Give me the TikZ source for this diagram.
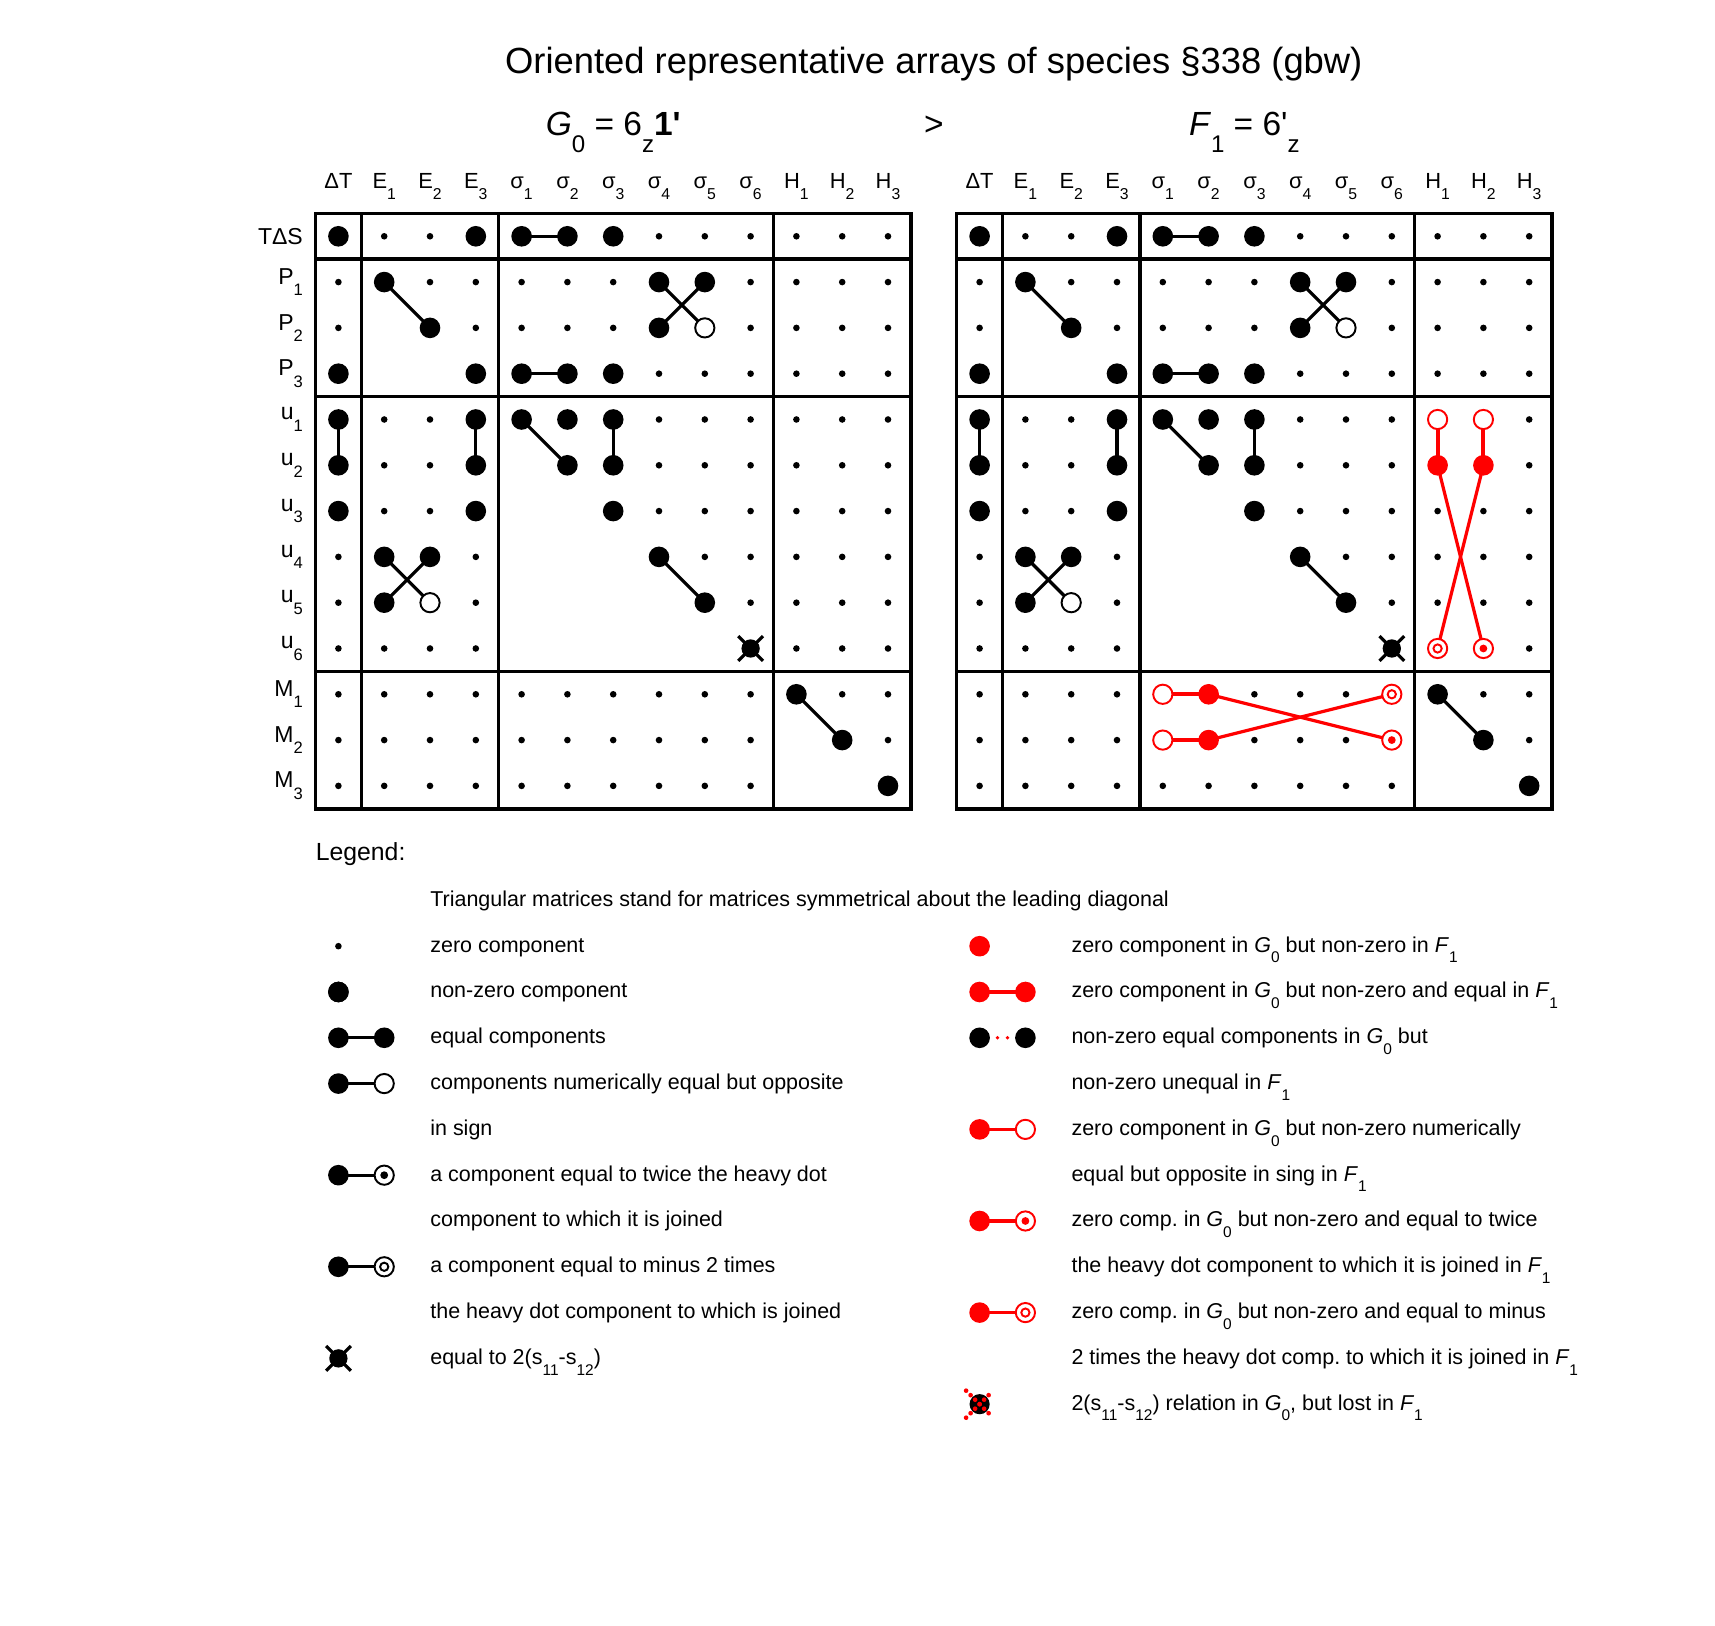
\documentclass[tikz,border=0pt]{standalone}
\usepackage{fontspec}
\setmainfont{Liberation Sans}
\usetikzlibrary{positioning}
\usetikzlibrary{calc}
\frenchspacing

\newcommand{\lo}[1]{\raisebox{-0.5em}{\scalebox{0.72}{#1}}}
\newcommand{\Gnull}{\textit{G}\lo{0}}
\newcommand{\Fone}{\textit{F}\lo{1}}

\tikzset{
  frame/.style={line width=2.2pt},
  link/.style={line width=2pt},
  redlink/.style={red, line width=2pt},
  ring/.style={fill=white, line width=1.2pt},
  txt/.style={inner sep=0pt, anchor=base west, font=\fontsize{13.35}{16}\selectfont},
  head/.style={inner sep=0pt, anchor=base, font=\fontsize{20.8}{25}\selectfont},
  collab/.style={inner sep=0pt, anchor=base, font=\fontsize{13.6}{16}\selectfont},
  rowlab/.style={inner sep=0pt, anchor=east, font=\fontsize{14.3}{17}\selectfont},
}

\begin{document}
\begin{tikzpicture}[x=1cm,y=-1cm]
\useasboundingbox (-7.389,-5.159) rectangle (30.057,30.343);

% title and the two species
\node[inner sep=0pt, anchor=base, font=\fontsize{22.6}{27}\selectfont] (title) at (13,-3.56) {Oriented representative arrays of species §338 (gbw)};
\node[head] (gname) at (6,-2.2) {\Gnull{} = 6\lo{z}\textbf{1\textquotesingle}};
\node[head] (gt) at (13,-2.2) {>};
\node[head] (fname) at (19.78,-2.2) {\Fone{} = 6\textquotesingle\lo{z}};

% grid points and zero components
\foreach \m/\dx in {g/0, f/14}
  \foreach \r in {0,...,12}
    \foreach \c in {0,...,12} {
      \coordinate (\m-\r-\c) at (\c+\dx,\r);
      \pgfmathtruncatemacro\br{(\r>0)+(\r>3)+(\r>9)}
      \pgfmathtruncatemacro\bc{(\c>0)+(\c>3)+(\c>9)}
      \pgfmathtruncatemacro\hole{(\br==\bc)&&(\r>\c)}
      \ifnum\hole=0 \fill (\m-\r-\c) circle (0.072); \fi
    }

% column labels
\foreach \m/\dx in {g/0, f/14}
  \foreach \c/\name in {0/ΔT, 1/E\lo{1}, 2/E\lo{2}, 3/E\lo{3}, 4/σ\lo{1}, 5/σ\lo{2}, 6/σ\lo{3}, 7/σ\lo{4}, 8/σ\lo{5}, 9/σ\lo{6}, 10/H\lo{1}, 11/H\lo{2}, 12/H\lo{3}}
    \node[collab] (\m-col-\c) at (\c+\dx,-1.05) {\name};

% row labels
\foreach \r/\name in {0/TΔS, 1/P\lo{1}, 2/P\lo{2}, 3/P\lo{3}, 4/u\lo{1}, 5/u\lo{2}, 6/u\lo{3}, 7/u\lo{4}, 8/u\lo{5}, 9/u\lo{6}, 10/M\lo{1}, 11/M\lo{2}, 12/M\lo{3}}
  \node[rowlab] (row-\r) at (-0.77,\r) {\name};

% frames
\foreach \dx in {0,14} {
  \draw[frame] (\dx-0.5,-0.5) rectangle (\dx+12.5,12.5);
  \foreach \k in {0.5,3.5,9.5} {
    \draw[frame] (\dx+\k,-0.5) -- (\dx+\k,12.5);
    \draw[frame] (\dx-0.5,\k) -- (\dx+12.5,\k);
  }
}

% components shared by both arrays
\foreach \m in {g,f} {
  \foreach \a/\b in {0-4/0-5, 3-4/3-5, 1-1/2-2, 1-7/2-8, 1-8/2-7, 4-0/5-0, 4-3/5-3, 4-4/5-5, 4-6/5-6, 7-1/8-2, 7-2/8-1, 7-7/8-8, 10-10/11-11}
    \draw[link] (\m-\a) -- (\m-\b);
  \foreach \p in {0-0, 0-3, 0-4, 0-5, 0-6, 1-1, 1-7, 1-8, 2-2, 2-7, 3-0, 3-3, 3-4, 3-5, 3-6, 4-0, 4-3, 4-4, 4-5, 4-6, 5-0, 5-3, 5-5, 5-6, 6-0, 6-3, 6-6, 7-1, 7-2, 7-7, 8-1, 8-8, 10-10, 11-11, 12-12}
    \fill (\m-\p) circle (0.225);
  \foreach \p in {2-8, 8-2}
    \filldraw[ring] (\m-\p) circle (0.21);
  % 2(s11-s12)
  \fill (\m-9-9) circle (0.2);
  \draw[link] (\m-9-9) ++(-0.27,-0.27) -- ++(0.54,0.54);
  \draw[link] (\m-9-9) ++(-0.27,0.27) -- ++(0.54,-0.54);
}

% new components of F1
\foreach \a/\b in {4-10/5-10, 4-11/5-11, 10-4/10-5, 11-4/11-5}
  \draw[redlink, line width=2.5pt] (f-\a) -- (f-\b);
\foreach \a/\b in {5-10/9-11, 5-11/9-10, 10-5/11-9, 11-5/10-9}
  \draw[redlink] (f-\a) -- (f-\b);
\foreach \p in {5-10, 5-11, 10-5, 11-5}
  \fill[red] (f-\p) circle (0.225);
\foreach \p in {4-10, 4-11, 10-4, 11-4}
  \filldraw[ring, draw=red] (f-\p) circle (0.21);
\foreach \p in {9-10, 10-9} {
  \filldraw[ring, draw=red] (f-\p) circle (0.21);
  \draw[red, line width=1.2pt] (f-\p) circle (0.09);
}
\foreach \p in {9-11, 11-9} {
  \filldraw[ring, draw=red] (f-\p) circle (0.21);
  \fill[red] (f-\p) circle (0.085);
}

% legend
\node[txt, anchor=west, font=\fontsize{15.4}{18}\selectfont] (legend) at (-0.5,13.5) {Legend:};
\node[txt] (tri) at (2,14.63) {Triangular matrices stand for matrices symmetrical about the leading diagonal};

\foreach \y/\t [count=\i] in {15.5/zero component, 16.5/non-zero component, 17.5/equal components, 18.5/components numerically equal but opposite, 19.5/in sign, 20.5/a component equal to twice the heavy dot, 21.5/component to which it is joined, 22.5/a component equal to minus 2 times, 23.5/the heavy dot component to which is joined, 24.5/equal to 2(s\lo{11}-s\lo{12})}
  \node[txt] (ltxt\i) at (2,\y+0.13) {\t};

\foreach \y/\t [count=\i] in {15.5/zero component in \Gnull{} but non-zero in \Fone, 16.5/zero component in \Gnull{} but non-zero and equal in \Fone, 17.5/non-zero equal components in \Gnull{} but, 18.5/non-zero unequal in \Fone, 19.5/zero component in \Gnull{} but non-zero numerically, 20.5/equal but opposite in sing in \Fone, 21.5/zero comp. in \Gnull{} but non-zero and equal to twice, 22.5/the heavy dot component to which it is joined in \Fone, 23.5/zero comp. in \Gnull{} but non-zero and equal to minus, 24.5/2 times the heavy dot comp. to which it is joined in \Fone, 25.5/{2(s\lo{11}-s\lo{12}) relation in \Gnull, but lost in \Fone}}
  \node[txt] (rtxt\i) at (16,\y+0.13) {\t};

% legend keys, left column
\foreach \i/\y in {1/15.5, 2/16.5, 3/17.5, 4/18.5, 5/20.5, 6/22.5, 7/24.5} {
  \coordinate (lk\i a) at (0,\y);
  \coordinate (lk\i b) at (1,\y);
}
\fill (lk1a) circle (0.072);
\fill (lk2a) circle (0.225);
\foreach \i in {3,...,6}
  \draw[link] (lk\i a) -- (lk\i b);
\foreach \i in {2,...,6}
  \fill (lk\i a) circle (0.225);
\fill (lk3b) circle (0.225);
\filldraw[ring] (lk4b) circle (0.21);
\filldraw[ring] (lk5b) circle (0.21);
\fill (lk5b) circle (0.085);
\filldraw[ring] (lk6b) circle (0.21);
\draw[line width=1.2pt] (lk6b) circle (0.09);
\fill (lk7a) circle (0.2);
\draw[link] (lk7a) ++(-0.27,-0.27) -- ++(0.54,0.54);
\draw[link] (lk7a) ++(-0.27,0.27) -- ++(0.54,-0.54);

% legend keys, right column
\foreach \i/\y in {1/15.5, 2/16.5, 3/17.5, 4/19.5, 5/21.5, 6/23.5, 7/25.5} {
  \coordinate (rk\i a) at (14,\y);
  \coordinate (rk\i b) at (15,\y);
}
\fill[red] (rk1a) circle (0.225);
\foreach \i in {2,4,5,6}
  \draw[redlink] (rk\i a) -- (rk\i b);
\draw[red, line width=2.3pt, line cap=round, dash pattern=on 0pt off 0.22cm, dash phase=0.05cm] (rk3a) -- (rk3b);
\foreach \i in {2,4,5,6}
  \fill[red] (rk\i a) circle (0.225);
\fill[red] (rk2b) circle (0.225);
\fill (rk3a) circle (0.225);
\fill (rk3b) circle (0.225);
\filldraw[ring, draw=red] (rk4b) circle (0.21);
\filldraw[ring, draw=red] (rk5b) circle (0.21);
\fill[red] (rk5b) circle (0.085);
\filldraw[ring, draw=red] (rk6b) circle (0.21);
\draw[red, line width=1.2pt] (rk6b) circle (0.09);
\fill (rk7a) circle (0.22);
\draw[red, line width=2.9pt, line cap=round, dash pattern=on 0pt off 3.96pt] (rk7a) ++(-0.295,-0.295) -- ++(0.59,0.59);
\draw[red, line width=2.9pt, line cap=round, dash pattern=on 0pt off 3.96pt] (rk7a) ++(-0.295,0.295) -- ++(0.59,-0.59);
\end{tikzpicture}
\end{document}
